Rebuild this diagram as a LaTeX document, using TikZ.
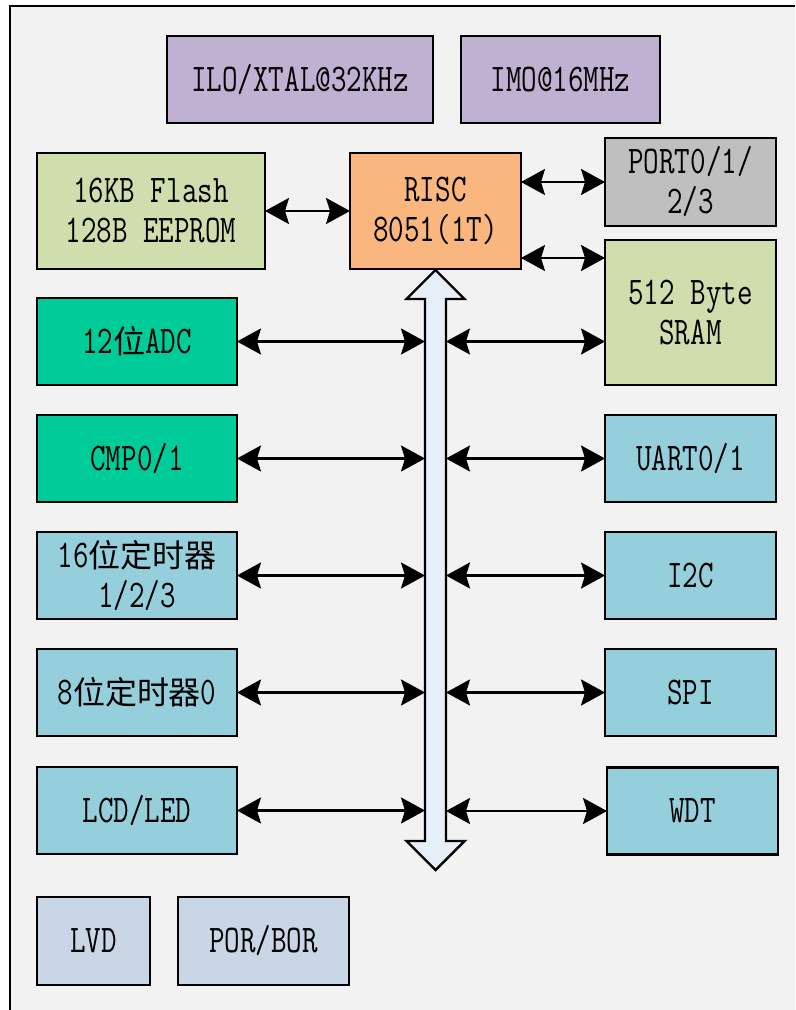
\documentclass[tikz,border=0pt]{standalone}
\usepackage{fontspec}
\setmainfont{Latin Modern Mono}[FakeStretch=0.77]
\newfontfamily\cjk{Noto Sans CJK SC}[Scale=0.816]
\usetikzlibrary{positioning,calc,arrows.meta}

\definecolor{bgcol}{RGB}{242,242,242}
\definecolor{lavcol}{RGB}{192,176,210}
\definecolor{olivecol}{RGB}{208,222,173}
\definecolor{orangecol}{RGB}{249,183,127}
\definecolor{graycol}{RGB}{191,191,191}
\definecolor{tealcol}{RGB}{0,204,153}
\definecolor{aquacol}{RGB}{150,207,220}
\definecolor{steelcol}{RGB}{200,214,230}
\definecolor{buscol}{RGB}{230,238,248}

\begin{document}
\begin{tikzpicture}[x=0.02cm,y=-0.02cm,line width=1.4pt,
                       >={Stealth[length=0.48cm,width=0.52cm,inset=0.08cm]},
                       block node/.style={rectangle,draw,outer sep=0pt,inner sep=0pt,
                                          align=center,font=\fontsize{22.3}{22.8}\selectfont,
                                          minimum height=1.74cm},
                       link/.style={<->}
                      ]
   \useasboundingbox (0,0) rectangle (795,1010);
   \fill[bgcol] (10,6) rectangle (795,1010);
   \draw (10,1010) -- (10,6) -- (795,6);

   % clocks
   \node[block node,fill=lavcol,minimum width=5.32cm] (ilo) at (300,79.5) {ILO/XTAL@32KHz};
   \node[block node,fill=lavcol,minimum width=3.98cm] (imo) at (560.5,79.5) {IMO@16MHz};

   % core and memory
   \node[block node,fill=olivecol,minimum width=4.56cm,minimum height=2.32cm] (flash) at (151,211) {16KB Flash\\128B EEPROM};
   \node[block node,fill=orangecol,minimum width=3.42cm,minimum height=2.32cm] (risc) at (435.5,211) {RISC\\8051(1T)};
   \node[block node,fill=graycol,minimum width=3.42cm,minimum height=1.76cm] (port) at (690.5,182) {PORT0/1/\\2/3};
   \node[block node,fill=olivecol,minimum width=3.42cm,minimum height=2.9cm] (sram) at (690.5,312.5) {512 Byte\\SRAM};

   % left peripherals
   \node[block node,fill=tealcol,minimum width=4cm] (adc) at (137,341.5) {12{\cjk 位}ADC};
   \node[block node,fill=tealcol,minimum width=4cm] (cmp) at (137,458.5) {CMP0/1};
   \node[block node,fill=aquacol,minimum width=4cm] (tmra) at (137,575.5) {16{\cjk 位定时器}\\1/2/3};
   \node[block node,fill=aquacol,minimum width=4cm] (tmrb) at (137,692.5) {8{\cjk 位定时器}0};
   \node[block node,fill=aquacol,minimum width=4cm] (lcd) at (137,810.5) {LCD/LED};

   % right peripherals
   \node[block node,fill=aquacol,minimum width=3.42cm] (uart) at (690.5,458.5) {UART0/1};
   \node[block node,fill=aquacol,minimum width=3.42cm] (iic) at (690.5,575.5) {I2C};
   \node[block node,fill=aquacol,minimum width=3.42cm] (spi) at (690.5,692.5) {SPI};
   \node[block node,fill=aquacol,minimum width=3.42cm] (wdt) at (692.5,811) {WDT};

   % supervisors
   \node[block node,fill=steelcol,minimum width=2.26cm,minimum height=1.76cm] (lvd) at (93.5,941) {LVD};
   \node[block node,fill=steelcol,minimum width=3.42cm,minimum height=1.76cm] (por) at (263.5,941) {POR/BOR};

   % internal bus
   \draw[fill=buscol,line join=miter] (435.5,270) -- (464.5,299) -- (446,299) -- (446,841)
        -- (464.5,841) -- (435.5,870) -- (406.5,841) -- (425,841) -- (425,299)
        -- (406.5,299) -- cycle;
   \coordinate (busW) at (425,0);
   \coordinate (busE) at (446,0);

   \draw[link] (flash) -- (risc);
   \draw[link] (risc.east |- port) -- (port.west);
   \draw[link] ([yshift=0.22cm]risc.south east) -- ([yshift=0.22cm]risc.south east -| sram.west);

   \foreach \n in {adc,cmp,tmra,tmrb,lcd}
      \draw[link] (\n.east) -- (\n.east -| busW);
   \draw[link] (adc.east -| busE) -- (adc.east -| sram.west);
   \foreach \n in {uart,iic,spi,wdt}
      \draw[link] (\n.west -| busE) -- (\n.west);
 \end{tikzpicture}
\end{document}
